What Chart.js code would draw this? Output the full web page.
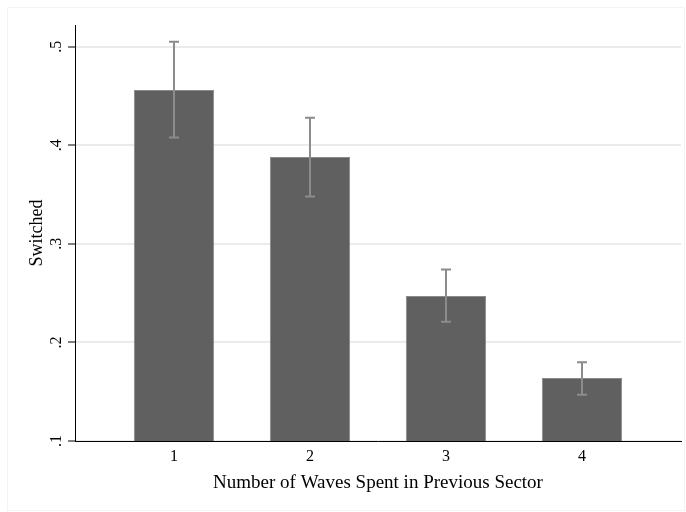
<!DOCTYPE html>
<html>
<head>
    <title>Switched by Waves Spent</title>
    <script src="https://cdn.jsdelivr.net/npm/chart.js@4/dist/chart.umd.min.js"></script>
    <style>
        html, body {
            margin: 0;
            padding: 0;
            background: #ffffff;
        }
        .chart-wrapper {
            width: 686px;
            height: 512px;
            position: relative;
        }
    </style>
</head>
<body>
    <div class="chart-wrapper">
        <canvas id="switchedChart"></canvas>
    </div>

    <script>
        // Data
        const waves = [1, 2, 3, 4];
        const switched = [0.456, 0.388, 0.247, 0.164];
        const ciHigh = [0.505, 0.428, 0.274, 0.180];
        const ciLow = [0.408, 0.348, 0.221, 0.147];
        const yTicks = [0.1, 0.2, 0.3, 0.4, 0.5];
        const yTickLabels = ['.1', '.2', '.3', '.4', '.5'];

        const serif = '"Liberation Serif", "Times New Roman", serif';

        // Error bars, y tick labels, axis title and the faint outer frame
        const stataExtras = {
            id: 'stataExtras',
            beforeDraw(chart) {
                const ctx = chart.ctx;
                ctx.save();
                ctx.strokeStyle = '#f3f3f3';
                ctx.lineWidth = 1;
                ctx.strokeRect(7.5, 7.5, 677, 503);
                ctx.restore();
            },
            afterDatasetsDraw(chart) {
                const ctx = chart.ctx;
                const xs = chart.scales.x;
                const ys = chart.scales.y;
                ctx.save();
                ctx.strokeStyle = '#8c8c8c';
                ctx.lineWidth = 2;
                waves.forEach((w, i) => {
                    const x = xs.getPixelForValue(w);
                    const yHi = ys.getPixelForValue(ciHigh[i]);
                    const yLo = ys.getPixelForValue(ciLow[i]);
                    ctx.beginPath();
                    ctx.moveTo(x, yHi);
                    ctx.lineTo(x, yLo);
                    ctx.moveTo(x - 5, yHi);
                    ctx.lineTo(x + 5, yHi);
                    ctx.moveTo(x - 5, yLo);
                    ctx.lineTo(x + 5, yLo);
                    ctx.stroke();
                });
                ctx.restore();
            },
            afterDraw(chart) {
                const ctx = chart.ctx;
                const ys = chart.scales.y;
                ctx.save();
                ctx.fillStyle = '#000';
                ctx.textAlign = 'center';
                ctx.textBaseline = 'middle';
                ctx.font = '16px ' + serif;
                yTicks.forEach((v, i) => {
                    ctx.save();
                    ctx.translate(57, ys.getPixelForValue(v));
                    ctx.rotate(-Math.PI / 2);
                    ctx.fillText(yTickLabels[i], 0, 0);
                    ctx.restore();
                });
                ctx.font = '18px ' + serif;
                ctx.translate(37, (chart.chartArea.top + chart.chartArea.bottom) / 2);
                ctx.rotate(-Math.PI / 2);
                ctx.fillText('Switched', 0, 0);
                ctx.restore();
            }
        };

        new Chart(document.getElementById('switchedChart'), {
            type: 'bar',
            data: {
                datasets: [{
                    label: 'Switched',
                    data: waves.map((w, i) => ({ x: w, y: switched[i] })),
                    backgroundColor: '#606060',
                    borderColor: '#8a8a8a',
                    borderWidth: 1,
                    categoryPercentage: 0.59,
                    barPercentage: 1
                }]
            },
            options: {
                responsive: true,
                maintainAspectRatio: false,
                animation: false,
                layout: {
                    padding: { top: 25, right: 5, bottom: 0, left: 0 }
                },
                plugins: {
                    legend: { display: false },
                    tooltip: { enabled: false }
                },
                scales: {
                    x: {
                        type: 'linear',
                        offset: false,
                        min: 0.272,
                        max: 4.728,
                        afterBuildTicks: (scale) => {
                            scale.ticks = waves.map(v => ({ value: v }));
                        },
                        afterFit: (scale) => { scale.height = 71; },
                        grid: { display: false, drawTicks: false, offset: false },
                        border: { display: true, color: '#000', width: 1 },
                        ticks: {
                            color: '#000',
                            font: { family: serif, size: 16 },
                            padding: 6,
                            callback: (v) => String(v)
                        },
                        title: {
                            display: true,
                            text: 'Number of Waves Spent in Previous Sector',
                            color: '#000',
                            font: { family: serif, size: 19 },
                            padding: { top: 4, bottom: 18 }
                        }
                    },
                    y: {
                        min: 0.1,
                        max: 0.522,
                        afterBuildTicks: (scale) => {
                            scale.ticks = yTicks.map(v => ({ value: v }));
                        },
                        afterFit: (scale) => { scale.width = 75; },
                        grid: {
                            color: '#ebebeb',
                            lineWidth: 2,
                            tickColor: '#000',
                            tickWidth: 1,
                            tickLength: 7
                        },
                        border: { display: true, color: '#000', width: 1 },
                        ticks: { display: false }
                    }
                }
            },
            plugins: [stataExtras]
        });
    </script>
</body>
</html>
